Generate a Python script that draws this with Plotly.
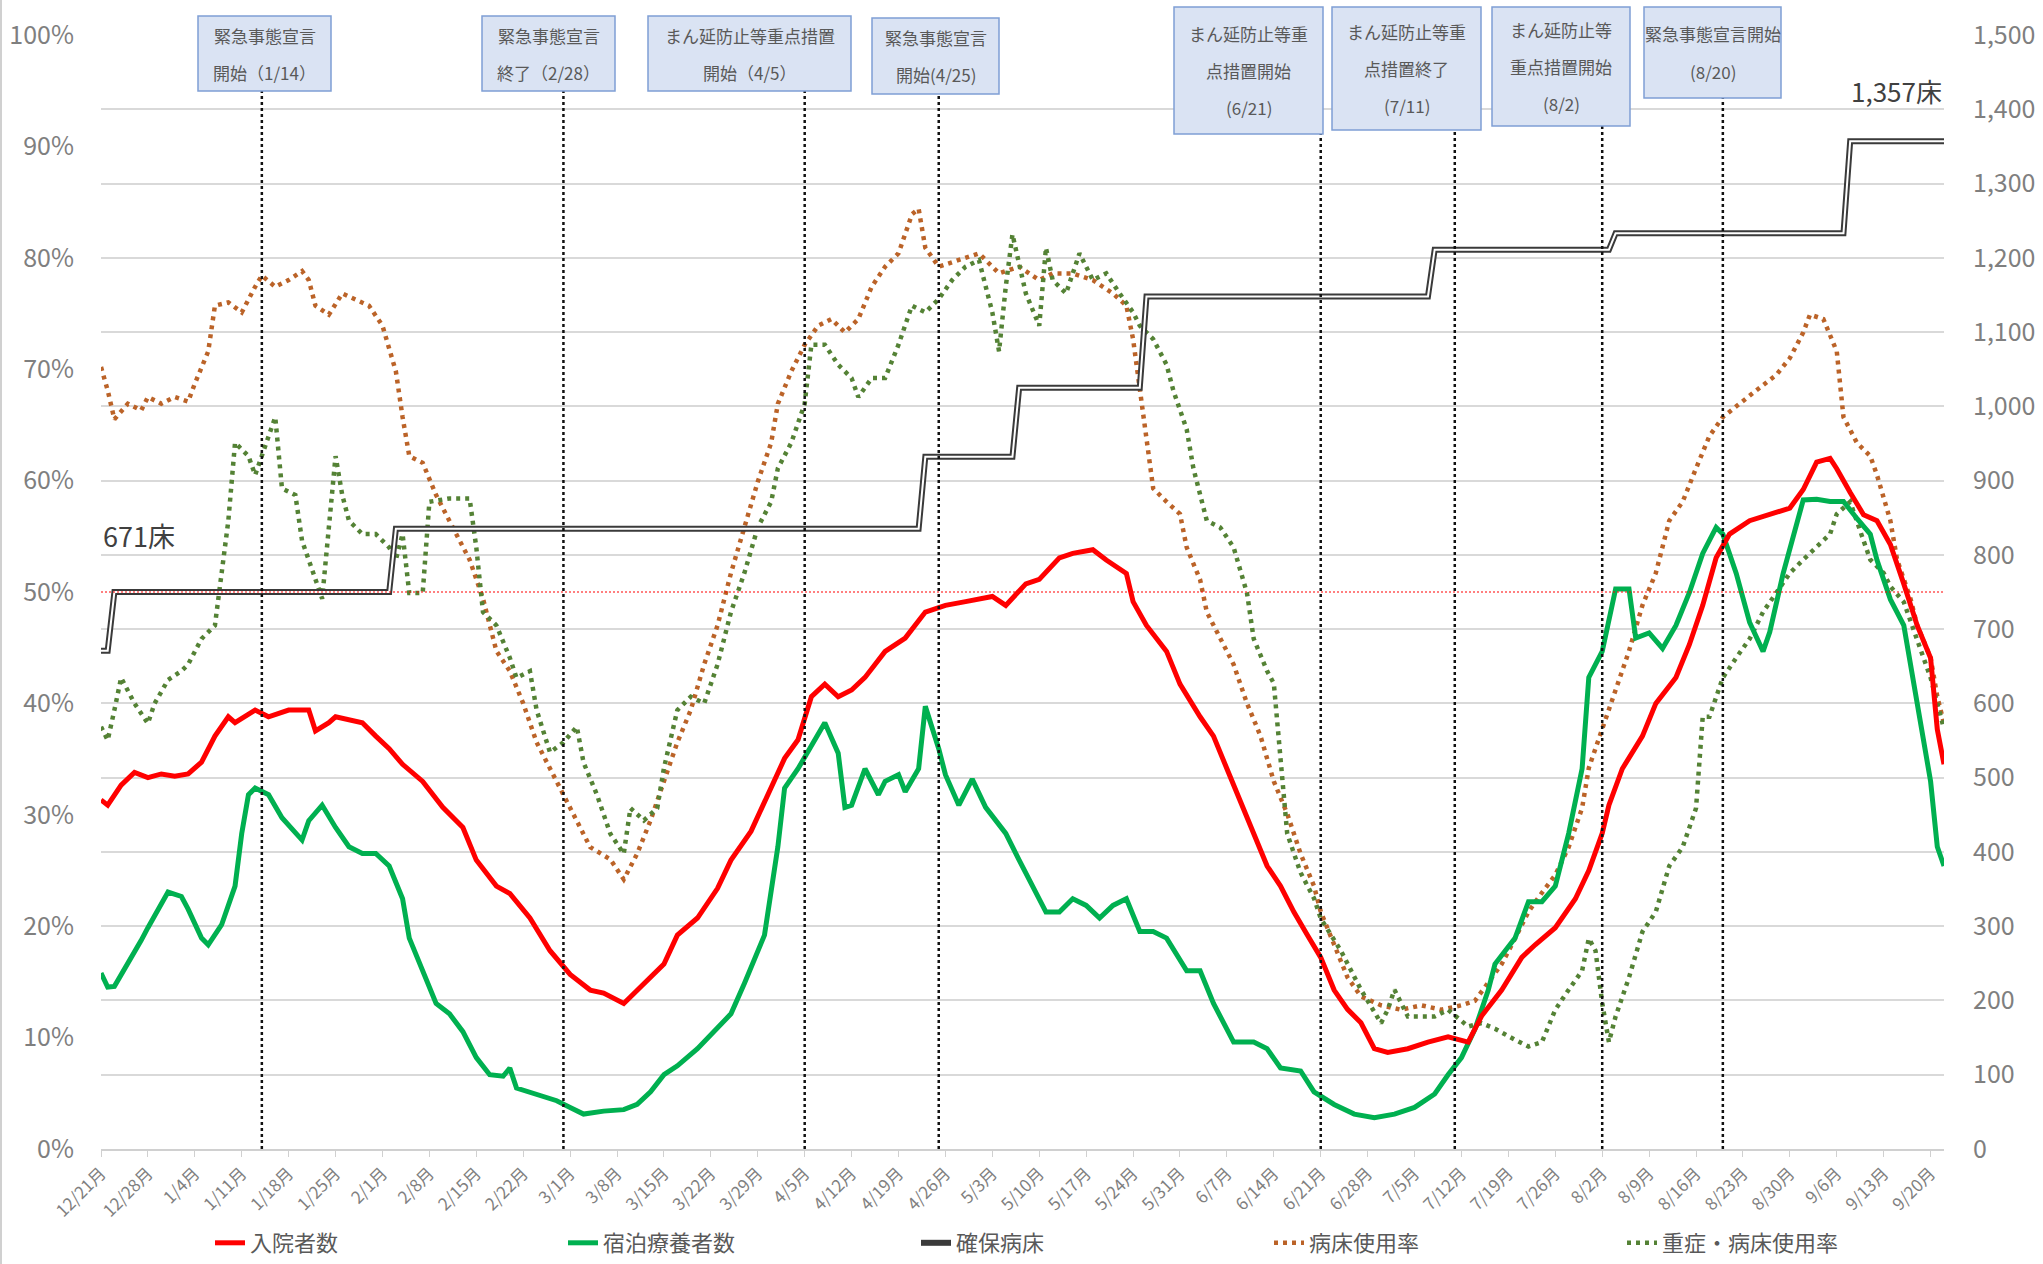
import pandas as pd
import plotly.graph_objects as go

START = pd.Timestamp("2020-12-21")
FONT = "Noto Sans CJK JP, Noto Sans, sans-serif"

# 入院者数（右軸, 人）  days = 2020/12/21 からの日数
hosp_days = [0, 1, 3, 5, 7, 9, 11, 13, 15, 17, 19, 20, 23, 25, 28, 31, 32, 34, 35, 39,
             41, 43, 45, 48, 51, 54, 56, 59, 61, 64, 67, 70, 73, 75, 78, 81, 84, 86, 89, 92,
             94, 97, 100, 102, 104, 106, 108, 110, 112, 114, 117, 120, 123, 126, 129, 133, 135, 138, 140, 143,
             145, 148, 150, 153, 154, 156, 159, 161, 164, 166, 168, 170, 172, 174, 176, 178, 180, 182, 184, 186,
             188, 190, 192, 195, 198, 201, 204, 206, 209, 212, 214, 217, 220, 222, 224, 225, 227, 230, 232, 235,
             237, 239, 241, 243, 246, 249, 252, 254, 256, 258, 259, 261, 263, 265, 267, 269, 271, 273, 274, 275]
hosp_vals = [470, 463, 490, 507, 500, 505, 502, 505, 521, 556, 582, 574, 591, 582, 591, 591, 563, 574, 582, 574,
             556, 539, 518, 495, 460, 433, 389, 354, 344, 311, 267, 235, 214, 210, 196, 223, 249, 288, 311, 351,
             389, 428, 486, 526, 551, 609, 626, 609, 618, 635, 670, 688, 723, 732, 737, 744, 732, 761, 767, 796,
             802, 807, 793, 775, 737, 705, 670, 626, 582, 556, 512, 468, 425, 381, 354, 319, 288, 258, 214, 188,
             170, 135, 130, 135, 144, 151, 144, 179, 214, 258, 275, 298, 337, 375, 425, 463, 512, 556, 600, 635,
             679, 732, 796, 828, 846, 854, 863, 888, 925, 930, 916, 884, 854, 846, 814, 761, 705, 661, 565, 518]

# 宿泊療養者数（右軸, 人）
hotel_days = [0, 1, 2, 4, 6, 7, 9, 10, 12, 13, 15, 16, 18, 20, 21, 22, 23, 25, 27, 30,
              31, 33, 35, 37, 39, 41, 43, 45, 46, 48, 50, 52, 54, 56, 58, 60, 61, 62, 65, 68,
              70, 72, 75, 78, 80, 82, 84, 86, 89, 91, 94, 96, 99, 101, 102, 104, 106, 108, 110, 111,
              112, 114, 116, 117, 119, 120, 122, 123, 125, 126, 128, 130, 132, 135, 137, 139, 141, 143, 145, 147,
              149, 151, 153, 155, 157, 159, 162, 164, 166, 169, 172, 174, 176, 179, 181, 184, 187, 190, 193, 196,
              199, 201, 203, 205, 207, 208, 211, 213, 215, 217, 219, 221, 222, 224, 226, 228, 229, 231, 233, 235,
              237, 239, 241, 242, 244, 246, 248, 249, 251, 254, 256, 258, 260, 262, 264, 265, 267, 269, 271, 273,
              274, 275]
hotel_vals = [237, 218, 219, 249, 281, 298, 328, 346, 340, 323, 284, 275, 302, 354, 425, 477, 486, 477, 446, 416,
              442, 463, 433, 407, 398, 398, 381, 337, 284, 240, 196, 182, 158, 123, 100, 98, 109, 82, 74, 65,
              56, 47, 51, 53, 60, 77, 100, 112, 135, 153, 182, 223, 288, 407, 486, 512, 544, 574, 533, 460,
              463, 512, 477, 495, 504, 481, 512, 596, 539, 504, 463, 498, 460, 425, 389, 354, 319, 319, 337, 328,
              311, 328, 337, 293, 293, 284, 240, 240, 196, 144, 144, 135, 109, 105, 77, 60, 47, 42, 47, 56,
              74, 100, 123, 161, 214, 249, 284, 333, 333, 354, 425, 512, 635, 670, 754, 754, 688, 695, 674, 705,
              749, 802, 837, 828, 775, 709, 670, 696, 775, 874, 875, 872, 872, 849, 828, 793, 740, 705, 600, 495,
              407, 381]

# 確保病床（右軸, 床）
bed_days = [0, 1, 2, 43, 44, 122, 123, 136, 137, 155, 156, 198, 199, 225, 226, 260, 261, 275]
bed_vals = [671, 671, 750, 750, 835, 835, 932, 932, 1025, 1025, 1148, 1148, 1211, 1211, 1233, 1233, 1357, 1357]

# 病床使用率（左軸, %）
occ_days = [0, 1, 2, 4, 6, 7, 9, 11, 13, 14, 16, 17, 19, 21, 23, 24, 26, 28, 30, 31,
            32, 34, 36, 38, 40, 42, 44, 45, 46, 48, 50, 53, 55, 57, 59, 61, 63, 65, 67, 70,
            73, 76, 78, 80, 82, 84, 86, 88, 90, 92, 94, 96, 98, 100, 101, 103, 105, 107, 109, 111,
            113, 115, 117, 119, 121, 122, 123, 125, 128, 131, 134, 137, 140, 142, 145, 148, 151, 153, 154, 155,
            156, 157, 159, 161, 162, 164, 165, 167, 169, 171, 173, 175, 177, 179, 181, 182, 184, 186, 188, 191,
            194, 197, 200, 203, 205, 207, 209, 211, 213, 215, 217, 219, 221, 222, 224, 226, 228, 230, 232, 234,
            236, 238, 240, 242, 244, 247, 250, 252, 254, 255, 257, 259, 260, 262, 264, 265, 267, 268, 270, 271,
            273, 274, 275]
occ_vals = [70.2, 68.1, 65.5, 66.9, 66.3, 67.5, 66.9, 67.5, 67.1, 68.7, 71.6, 75.7, 76.0, 75.1, 77.4, 78.4, 77.4, 78.0, 78.8, 78.0,
            75.7, 74.9, 76.8, 76.3, 75.7, 73.9, 69.8, 65.7, 62.2, 61.6, 58.7, 55.2, 52.9, 49.4, 44.7, 42.9, 40.0, 36.5, 34.2, 30.6,
            27.1, 26.0, 24.2, 26.5, 29.5, 33.0, 36.5, 39.4, 43.5, 47.0, 51.7, 55.8, 59.9, 63.4, 66.9, 69.8, 72.2, 73.9, 74.5, 73.3,
            74.5, 77.4, 79.2, 80.4, 83.9, 84.4, 80.9, 79.2, 79.8, 80.4, 78.6, 79.2, 78.0, 78.6, 78.6, 78.0, 76.8, 75.7, 72.7, 68.1,
            63.4, 59.3, 58.1, 57.0, 54.0, 51.1, 48.2, 45.8, 43.5, 40.0, 37.1, 33.0, 30.1, 26.5, 23.6, 21.3, 18.4, 15.4, 13.7, 12.9,
            12.5, 12.9, 12.5, 12.9, 13.3, 14.9, 16.6, 18.9, 21.3, 23.0, 24.6, 27.1, 30.6, 34.2, 37.7, 41.2, 44.7, 48.8, 51.7, 56.4,
            58.1, 61.1, 64.0, 65.7, 66.7, 68.1, 69.5, 71.0, 73.3, 74.9, 74.5, 71.6, 65.7, 63.4, 62.2, 60.5, 56.4, 52.9, 49.4, 47.0,
            44.1, 40.6, 38.2]

# 重症・病床使用率（左軸, %）
sev_days = [0, 1, 2, 3, 5, 7, 8, 10, 12, 13, 15, 17, 18, 19, 20, 22, 23, 25, 26, 27,
            29, 30, 32, 33, 35, 36, 37, 39, 41, 43, 44, 45, 46, 48, 49, 52, 55, 56, 57, 59,
            61, 62, 64, 65, 67, 69, 71, 72, 74, 76, 78, 79, 81, 83, 84, 86, 88, 90, 92, 94,
            96, 98, 100, 101, 103, 105, 106, 108, 110, 112, 113, 115, 117, 119, 121, 123, 125, 127, 129, 131,
            133, 134, 135, 136, 138, 140, 141, 142, 144, 146, 148, 150, 152, 154, 155, 157, 159, 160, 162, 163,
            165, 167, 169, 171, 172, 174, 175, 176, 177, 179, 181, 182, 185, 188, 191, 192, 193, 195, 197, 199,
            201, 204, 206, 208, 211, 213, 215, 217, 219, 221, 222, 223, 224, 225, 226, 228, 230, 232, 234, 236,
            238, 239, 240, 242, 244, 246, 248, 250, 252, 254, 256, 258, 259, 261, 263, 264, 266, 267, 269, 271,
            273, 274, 275]
sev_vals = [37.9, 36.7, 39.4, 42.3, 40.0, 38.2, 40.0, 42.1, 42.9, 43.5, 45.8, 47.0, 51.7, 56.4, 63.4, 62.2, 60.5, 64.0, 65.7, 59.3,
            58.7, 54.6, 51.1, 49.4, 62.2, 58.7, 56.4, 55.2, 55.2, 54.0, 52.9, 55.2, 49.9, 49.9, 58.1, 58.4, 58.4, 54.0, 48.2, 47.0,
            44.1, 42.3, 42.9, 39.4, 35.6, 36.5, 37.9, 34.7, 31.8, 28.3, 26.5, 30.6, 29.5, 30.6, 34.2, 39.4, 40.6, 40.0, 43.5, 48.2,
            51.7, 55.8, 58.1, 61.1, 63.4, 66.9, 72.2, 72.2, 70.4, 69.2, 67.5, 69.2, 69.2, 72.2, 75.7, 75.1, 76.3, 78.0, 79.2, 79.8,
            75.1, 71.6, 77.4, 82.1, 76.8, 73.9, 80.9, 78.0, 76.8, 80.4, 78.0, 78.6, 76.8, 75.1, 73.9, 72.7, 70.4, 68.1, 64.6, 61.1,
            56.4, 55.8, 54.0, 49.9, 45.8, 42.9, 41.8, 35.3, 28.3, 24.8, 22.5, 20.7, 17.8, 14.3, 11.3, 12.5, 14.3, 11.9, 11.9, 11.9,
            12.5, 11.0, 11.3, 10.8, 9.8, 9.2, 9.6, 12.5, 14.3, 16.0, 18.9, 17.8, 13.1, 9.6, 11.9, 15.4, 19.5, 21.3, 25.4, 27.1,
            30.6, 38.8, 38.8, 42.3, 44.1, 45.8, 48.2, 49.9, 51.7, 52.9, 54.0, 55.2, 57.0, 58.1, 54.6, 52.9, 51.7, 50.5, 49.1, 45.8,
            42.3, 40.0, 37.7]

# 措置の節目
event_dates = ["2021-01-14", "2021-02-28", "2021-04-05", "2021-04-25",
               "2021-06-21", "2021-07-11", "2021-08-02", "2021-08-20"]
event_labels = [["緊急事態宣言", "開始（1/14）"],
                ["緊急事態宣言", "終了（2/28）"],
                ["まん延防止等重点措置", "開始（4/5）"],
                ["緊急事態宣言", "開始(4/25)"],
                ["まん延防止等重", "点措置開始", "(6/21)"],
                ["まん延防止等重", "点措置終了", "(7/11)"],
                ["まん延防止等", "重点措置開始", "(8/2)"],
                ["緊急事態宣言開始", "(8/20)"]]
# box edges in pixels: x0, x1, y0(top), y1(bottom)
event_boxes = [(198, 331, 16, 91), (482, 615, 16, 91), (648, 851, 16, 91), (872, 999, 18, 94),
               (1174, 1323, 7, 134), (1332, 1481, 7, 130), (1492, 1630, 7, 126), (1644, 1781, 7, 98)]

pct_ticks = list(range(0, 101, 10))
bed_ticks = list(range(0, 1501, 100))

END_DAY = 275
W, H = 2043, 1264
ML, MR, MT, MB = 101, 99, 35, 115
PW, PH = W - ML - MR, H - MT - MB


def to_dates(days):
    return START + pd.to_timedelta(days, unit="D")


def px_x(px):
    return (px - ML) / PW


def px_y(py):
    return (H - MB - py) / PH


fig = go.Figure()

fig.add_trace(go.Scatter(x=to_dates(occ_days), y=occ_vals, name="病床使用率", yaxis="y",
                         mode="lines", line=dict(color="#bb6328", width=4.5, dash="4px,5px"),
                         legendrank=4))
fig.add_trace(go.Scatter(x=to_dates(sev_days), y=sev_vals, name="重症・病床使用率", yaxis="y",
                         mode="lines", line=dict(color="#548235", width=4.5, dash="4px,5px"),
                         legendrank=5))
fig.add_trace(go.Scatter(x=to_dates(bed_days), y=bed_vals, name="確保病床", yaxis="y2",
                         mode="lines", line=dict(color="#3a3a3a", width=6), legendrank=3))
fig.add_trace(go.Scatter(x=to_dates(bed_days), y=bed_vals, name="確保病床", yaxis="y2",
                         mode="lines", line=dict(color="#ffffff", width=2), showlegend=False,
                         hoverinfo="skip"))
fig.add_trace(go.Scatter(x=to_dates(hotel_days), y=hotel_vals, name="宿泊療養者数", yaxis="y2",
                         mode="lines", line=dict(color="#00b050", width=5), legendrank=2))
fig.add_trace(go.Scatter(x=to_dates(hosp_days), y=hosp_vals, name="入院者数", yaxis="y2",
                         mode="lines", line=dict(color="#ff0000", width=5), legendrank=1))

shapes = []
annotations = []

# 50% line
shapes.append(dict(type="line", xref="paper", yref="y", x0=0, x1=1, y0=50, y1=50,
                   line=dict(color="#ff0000", width=1.2, dash="2px,2px")))

for date, lines, (x0, x1, y0, y1) in zip(event_dates, event_labels, event_boxes):
    shapes.append(dict(type="line", xref="x", yref="paper", x0=date, x1=date,
                       y0=0, y1=px_y(y1), line=dict(color="#111111", width=2.5, dash="3px,3px")))
    shapes.append(dict(type="rect", xref="paper", yref="paper",
                       x0=px_x(x0), x1=px_x(x1), y0=px_y(y1), y1=px_y(y0),
                       fillcolor="#dae3f3", line=dict(color="#7f9fd5", width=1.5)))
    pitch = 37
    cy = (y0 + y1) / 2
    n = len(lines)
    for i, txt in enumerate(lines):
        ly = cy + (i - (n - 1) / 2) * pitch
        annotations.append(dict(xref="paper", yref="paper", x=px_x((x0 + x1) / 2), y=px_y(ly),
                                text=txt, showarrow=False, xanchor="center", yanchor="middle",
                                font=dict(family=FONT, size=17, color="#595959")))

annotations.append(dict(xref="paper", yref="y2", x=0, y=800, text="671床", showarrow=False,
                        xanchor="left", yanchor="bottom", yshift=-2,
                        font=dict(family=FONT, size=27, color="#404040")))
annotations.append(dict(xref="paper", yref="y2", x=1, y=1400, text="1,357床", showarrow=False,
                        xanchor="right", yanchor="bottom", yshift=-2,
                        font=dict(family=FONT, size=26, color="#404040")))

# left frame edge
shapes.append(dict(type="line", xref="paper", yref="paper", x0=px_x(1), x1=px_x(1),
                   y0=px_y(H), y1=px_y(0), line=dict(color="#d0d0d0", width=2)))

tick_dates = pd.date_range(START, "2021-09-20", freq="7D")
tick_text = [f"{d.month}/{d.day}月" for d in tick_dates]

fig.update_layout(
    width=W, height=H,
    margin=dict(l=ML, r=MR, t=MT, b=MB, autoexpand=False),
    paper_bgcolor="white", plot_bgcolor="white",
    font=dict(family=FONT, color="#7f7f7f"),
    showlegend=True,
    legend=dict(orientation="h", x=px_x(210), y=px_y(1243), xanchor="left", yanchor="middle",
                font=dict(family=FONT, size=22, color="#595959"),
                entrywidth=308, entrywidthmode="pixels", bgcolor="rgba(0,0,0,0)"),
    xaxis=dict(type="date", range=[START, START + pd.Timedelta(days=END_DAY)],
               tickvals=tick_dates, ticktext=tick_text, tickangle=-45,
               tickfont=dict(size=17, color="#7f7f7f"), showgrid=False,
               showline=True, linecolor="#d0d0d0", linewidth=1.5,
               ticks="outside", ticklen=6, tickcolor="#d0d0d0", zeroline=False),
    yaxis=dict(range=[0, 100], tickvals=pct_ticks, ticktext=[f"{v}%" for v in pct_ticks],
               showgrid=False, zeroline=False, tickfont=dict(size=25, color="#7f7f7f"),
               ticklabelstandoff=26),
    yaxis2=dict(range=[0, 1500], tickvals=bed_ticks, ticktext=[f"{v:,}" for v in bed_ticks],
                overlaying="y", side="right", showgrid=True, gridcolor="#d9d9d9", gridwidth=1.5,
                zeroline=False, tickfont=dict(size=25, color="#7f7f7f"), ticklabelstandoff=28),
    shapes=shapes,
    annotations=annotations,
)

fig.write_html("out.html", config={"displayModeBar": False},
               post_script="document.body.style.margin='0';")
